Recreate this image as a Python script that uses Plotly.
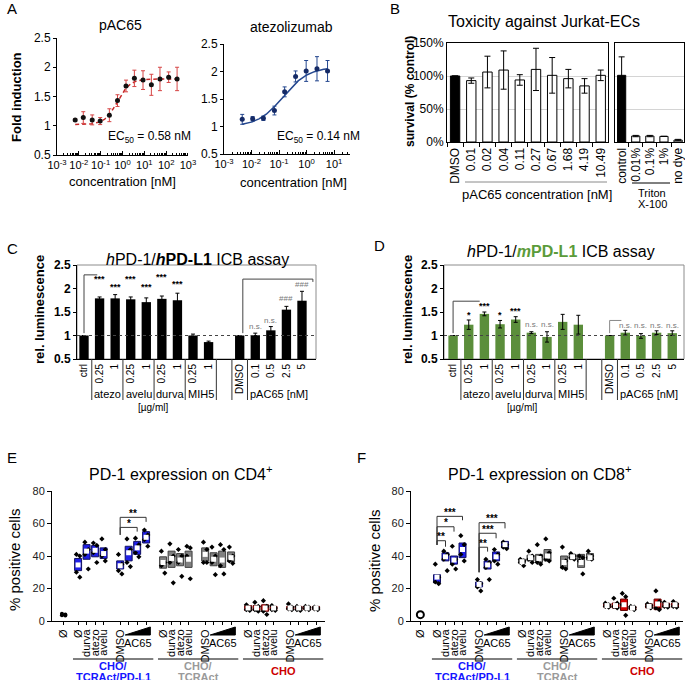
import numpy as np
import plotly.graph_objects as go

W, H = 685, 680
FONT = "Liberation Sans, Arial, Helvetica, sans-serif"


def px(v):
    return v / W


def py(v):
    return 1 - v / H


# ======================= DATA =======================
# Panel A - dose response
pac_conc = [0.0068, 0.016, 0.041, 0.095, 0.25, 0.59, 1.45, 3.5, 8.7, 21, 52, 130, 316]
pac_fold = [1.10, 1.14, 1.10, 1.08, 1.18, 1.43, 1.68, 1.81, 1.78, 1.70, 1.80, 1.83, 1.80]
pac_err = [0.02, 0.10, 0.085, 0.06, 0.11, 0.10, 0.10, 0.14, 0.16, 0.18, 0.20, 0.09, 0.20]
pac_fit = dict(bottom=1.02, top=1.80, ec50=0.58, hill=1.5)

atz_conc = [0.0046, 0.011, 0.027, 0.068, 0.16, 0.40, 0.97, 2.4, 5.8]
atz_fold = [1.13, 1.14, 1.15, 1.29, 1.63, 1.91, 2.01, 2.05, 2.01]
atz_err = [0.09, 0.04, 0.04, 0.08, 0.09, 0.10, 0.19, 0.22, 0.19]
atz_fit = dict(bottom=1.0, top=2.08, ec50=0.14, hill=0.95)

# Panel B - toxicity
tox_labels = ["DMSO", "0.01", "0.02", "0.04", "0.11", "0.27", "0.67", "1.68", "4.19", "10.49"]
tox_surv = [100, 93, 106, 109, 94, 110, 101, 96, 85, 101]
tox_err = [0, 4, 24, 29, 8, 32, 27, 14, 11, 8]
ctl_labels = ["control", "0.01%", "0.1%", "1%", "no dye"]
ctl_surv = [101, 9, 9, 8.5, 3]
ctl_err = [28, 1, 1, 0, 1]

# Panels C / D - ICB assay
icb_ab_labels = ["ctrl", "0.25", "1", "0.25", "1", "0.25", "1", "0.25", "1"]
icb_pac_labels = ["DMSO", "0.1", "0.5", "2.5", "5"]
icb_groups = ["atezo", "avelu", "durva", "MIH5"]
hC_ab = [1.00, 1.79, 1.79, 1.77, 1.71, 1.78, 1.75, 1.00, 0.86]
hC_ab_err = [0, 0.03, 0.08, 0.05, 0.09, 0.06, 0.15, 0.03, 0.02]
hC_pac = [1.00, 1.01, 1.11, 1.55, 1.74]
hC_pac_err = [0, 0.04, 0.08, 0.07, 0.20]
hC_ab_sig = ["", "***", "***", "***", "***", "***", "***", "", ""]
hC_pac_sig = ["", "n.s.", "n.s.", "###", "###"]
mD_ab = [1.00, 1.23, 1.46, 1.24, 1.34, 1.06, 0.97, 1.29, 1.23]
mD_ab_err = [0, 0.10, 0.04, 0.08, 0.06, 0.02, 0.11, 0.16, 0.20]
mD_pac = [1.00, 1.06, 0.99, 1.06, 1.05]
mD_pac_err = [0, 0.05, 0.05, 0.04, 0.05]
mD_ab_sig = ["", "*", "***", "*", "***", "n.s.", "n.s.", "", ""]
mD_pac_sig = ["", "n.s.", "n.s.", "n.s.", "n.s."]

# Panels E / F - PD-1 expression (order per group: Ø, durva, atezo, avelu, DMSO, AC65 low, mid, high)
pd1_labels = ["Ø", "durva", "atezo", "avelu", "DMSO", "", "", ""]
pd1_groups = [["CHO/", "TCRAct/PD-L1"], ["CHO/", "TCRAct"], ["CHO"]]

cd4_unstim = [4.5, 4.0, 3.6, 3.4]
cd4_q1 = [[31, 38, 39.5, 38.5, 32, 37, 41, 48],
          [32.5, 33, 34, 33, 37, 34, 33, 36.5],
          [6.5, 6.5, 6, 7, 7, 7, 7, 7]]
cd4_q3 = [[38.5, 47, 46.5, 45, 37, 46, 49, 55],
          [39.5, 43, 41.5, 43, 45, 42, 43, 42.5],
          [9.5, 9.5, 10, 9, 9, 9, 9, 9]]
cd4_mean = [[34.5, 43, 43.5, 41.5, 34, 42, 45, 51.5],
            [36, 38.5, 37.5, 38, 41, 38, 37.5, 39],
            [8, 8, 8, 8, 8, 8, 8, 8]]
cd4_pts = [[[41, 40, 30, 27], [48.5, 44, 41, 32], [48, 46.5, 42, 36], [50.5, 44, 40, 37],
            [41, 35, 31, 29], [50.5, 44, 36, 33.5], [51, 47, 42, 39.5], [56, 53, 50, 46]],
           [[43, 36, 34, 29.5], [47.5, 40, 36, 23.5], [44, 40, 36, 27.5], [46, 45, 40, 26],
            [48.5, 44, 36, 36], [45.5, 40, 36, 28.5], [47, 44, 34, 29], [45.5, 40, 37, 35.5]],
           [[10, 8, 7, 6.5], [11.5, 9, 7, 6], [12.5, 9, 6, 4], [9.5, 8, 7, 6.5],
            [10.5, 8.5, 7.5, 7], [9, 8, 7, 6.5], [9, 8.5, 7.5, 7], [8.5, 8, 7.5, 7]]]

cd8_unstim = [4.6, 4.0, 3.6, 3.4]
cd8_q1 = [[23.5, 37, 35, 39, 21, 32, 37, 45],
          [35.5, 37, 36, 37, 32.5, 38, 33, 37.5],
          [8.5, 8, 6.5, 7, 8, 7, 8.5, 8.5]]
cd8_q3 = [[28.5, 42, 40, 48, 24, 37, 42.5, 49],
          [38, 40.5, 41, 44, 40, 41, 41, 41.5],
          [10.5, 11, 13.5, 9, 10.5, 13.5, 11, 11]]
cd8_mean = [[27, 39.5, 37.5, 44, 22.5, 34.5, 39.5, 47],
            [36.5, 39, 38.5, 40, 36, 39.5, 36, 39],
            [9.5, 9.5, 10, 8, 9, 10.5, 10, 10]]
cd8_pts = [[[35, 27, 24, 23], [43, 41, 38, 31], [46, 38, 35, 32], [52.5, 47, 41, 37],
            [25.5, 23, 21, 18.5], [38, 36, 33, 25.5], [44, 41, 37, 35], [48.5, 47, 45.5, 44.5]],
           [[38, 37, 36, 34], [43, 40, 38, 36], [47, 40, 36, 35], [50.5, 42, 38, 37],
            [45.5, 37, 33, 32], [41.5, 40, 39, 38], [40, 39, 37, 29], [43, 40, 39, 38]],
           [[11, 10, 9, 8.5], [14, 11, 9, 8], [17, 15, 10, 3.5], [9, 8.5, 8, 7],
            [10.5, 9.5, 9, 8], [18.5, 12, 8, 7], [11.5, 10, 9, 8.5], [12, 10.5, 9, 8.5]]]

# ======================= FIGURE =======================
fig = go.Figure()
LAY = {}
ANN = []
SHP = []


def ax_ids(n):
    s = "" if n == 1 else str(n)
    return "x" + s, "y" + s, "xaxis" + s, "yaxis" + s


def set_axes(n, x0, x1, ytop, ybot, xkw, ykw):
    xr, yr, xk, yk = ax_ids(n)
    com = dict(showgrid=False, zeroline=False, showline=True, linecolor="black",
               linewidth=1, ticks="outside", ticklen=3, tickcolor="black", automargin=False,
               tickfont=dict(family=FONT, size=11, color="black"), fixedrange=True)
    xa = dict(com, domain=[px(x0), px(x1)], anchor=yr)
    xa.update(xkw)
    ya = dict(com, domain=[py(ybot), py(ytop)], anchor=xr)
    ya.update(ykw)
    LAY[xk] = xa
    LAY[yk] = ya
    return xr, yr


def text_px(t, x, y, size=11, color="black", angle=0, xa="center", ya="middle"):
    ANN.append(dict(text=t, x=px(x), y=py(y), xref="paper", yref="paper", showarrow=False,
                    font=dict(family=FONT, size=size, color=color), textangle=angle,
                    xanchor=xa, yanchor=ya))


def text_data(t, x, y, xr, yr, size=9, color="black"):
    ANN.append(dict(text=t, x=x, y=y, xref=xr, yref=yr, showarrow=False,
                    font=dict(family=FONT, size=size, color=color),
                    xanchor="center", yanchor="middle"))


def text_xp(t, x, ypix, xr, size=10, color="black"):
    ANN.append(dict(text=t, x=x, y=py(ypix), xref=xr, yref="paper", showarrow=False,
                    font=dict(family=FONT, size=size, color=color),
                    xanchor="center", yanchor="middle"))


def line_data(x0, y0, x1, y1, xr, yr, color="black", width=1, dash="solid"):
    SHP.append(dict(type="line", x0=x0, y0=y0, x1=x1, y1=y1, xref=xr, yref=yr,
                    line=dict(color=color, width=width, dash=dash)))


def line_xp(x0, y0, x1, y1, xr, color="black", width=1):
    SHP.append(dict(type="line", x0=x0, y0=py(y0), x1=x1, y1=py(y1), xref=xr, yref="paper",
                    line=dict(color=color, width=width)))


def line_px(x0, y0, x1, y1, color="black", width=1):
    SHP.append(dict(type="line", x0=px(x0), y0=py(y0), x1=px(x1), y1=py(y1),
                    xref="paper", yref="paper", line=dict(color=color, width=width)))


def fourpl(x, p):
    return p["bottom"] + (p["top"] - p["bottom"]) / (1 + (p["ec50"] / x) ** p["hill"])


# ---------------- Panel A ----------------
def log_axis(lo, hi, top_label):
    return dict(type="log", range=[lo, hi], tickmode="array", tickangle=0,
                tickvals=[10.0 ** k for k in range(lo, top_label + 1)],
                ticktext=[f"10<sup>{k}</sup>" for k in range(lo, top_label + 1)],
                ticks="inside", ticklen=4,
                tickfont=dict(family=FONT, size=11, color="black"),
                minor=dict(ticks="inside", ticklen=2, tickcolor="black",
                           tickvals=[m * 10.0 ** k for k in range(lo, top_label + 1) for m in range(2, 10)
                                     if np.log10(m * 10.0 ** k) <= hi]))


fold_y = dict(range=[0.5, 2.5], tickvals=[0.5, 1, 1.5, 2, 2.5],
              ticktext=["0.5", "1", "1.5", "2", "2.5"],
              tickfont=dict(family=FONT, size=12, color="black"))

xr, yr = set_axes(1, 57, 188, 38, 155, log_axis(-3, 3, 3), dict(fold_y))
xs = np.logspace(np.log10(min(pac_conc)), np.log10(max(pac_conc)), 200)
fig.add_trace(go.Scatter(x=xs, y=fourpl(xs, pac_fit), mode="lines", xaxis=xr, yaxis=yr,
                         line=dict(color="#c62828", width=1.5, dash="4px,3px"), hoverinfo="skip"))
fig.add_trace(go.Scatter(x=pac_conc, y=pac_fold, mode="markers", xaxis=xr, yaxis=yr,
                         marker=dict(color="#111111", size=5),
                         error_y=dict(type="data", array=pac_err, color="#d64545", thickness=1, width=2)))

xr, yr = set_axes(2, 224, 350, 44, 154, log_axis(-3, 1.58, 1), dict(fold_y))
xs = np.logspace(np.log10(min(atz_conc)), np.log10(max(atz_conc)), 200)
fig.add_trace(go.Scatter(x=xs, y=fourpl(xs, atz_fit), mode="lines", xaxis=xr, yaxis=yr,
                         line=dict(color="#24478f", width=1.5), hoverinfo="skip"))
fig.add_trace(go.Scatter(x=atz_conc, y=atz_fold, mode="markers", xaxis=xr, yaxis=yr,
                         marker=dict(color="#152a66", size=5),
                         error_y=dict(type="data", array=atz_err, color="#24478f", thickness=1, width=2)))

text_px("A", 5, 9, size=15, xa="left")
text_px("pAC65", 120, 25, size=14)
text_px("atezolizumab", 291, 27, size=14)
text_px("<b>Fold induction</b>", 17, 97, size=13, angle=-90)
text_px("EC<sub>50</sub> = 0.58 nM", 149, 137, size=12)
text_px("EC<sub>50</sub> = 0.14 nM", 318, 137, size=12)
text_px("concentration [nM]", 122, 182, size=13)
text_px("concentration [nM]", 293, 183, size=13)

# ---------------- Panel B ----------------
surv_y = dict(range=[0, 150], tickvals=[0, 50, 100, 150], ticktext=["0%", "50%", "100%", "150%"],
              showgrid=True, gridcolor="#d4d4d4", mirror=True, ticks="",
              tickfont=dict(family=FONT, size=12, color="black"))
xr, yr = set_axes(3, 447, 608, 43, 142,
                  dict(range=[-0.5, 9.45], tickvals=list(range(len(tox_labels))), ticktext=tox_labels,
                       tickangle=-90, ticks="", mirror=True,
                       tickfont=dict(family=FONT, size=12, color="black"),
                       minor=dict(tickvals=[i + 0.5 for i in range(-1, len(tox_labels))],
                                  ticks="outside", ticklen=4, tickcolor="black")),
                  dict(surv_y))
fig.add_trace(go.Bar(x=list(range(len(tox_labels))), y=tox_surv, width=0.58, xaxis=xr, yaxis=yr,
                     marker=dict(color=["black"] + ["white"] * (len(tox_labels) - 1),
                                 line=dict(color="black", width=1)),
                     error_y=dict(type="data", array=tox_err, color="black", thickness=1, width=3)))
xr, yr = set_axes(4, 615, 684, 43, 142,
                  dict(range=[-0.47, 4.42], tickvals=list(range(len(ctl_labels))), ticktext=ctl_labels,
                       tickangle=-90, ticks="", mirror=True,
                       tickfont=dict(family=FONT, size=12, color="black"),
                       minor=dict(tickvals=[i + 0.5 for i in range(-1, len(ctl_labels))],
                                  ticks="outside", ticklen=4, tickcolor="black")),
                  dict(surv_y, showticklabels=False))
fig.add_trace(go.Bar(x=list(range(len(ctl_labels))), y=ctl_surv, width=0.58, xaxis=xr, yaxis=yr,
                     marker=dict(color=["black"] + ["white"] * (len(ctl_labels) - 1),
                                 line=dict(color="black", width=1)),
                     error_y=dict(type="data", array=ctl_err, color="black", thickness=1, width=3)))
text_px("B", 388, 9, size=15, xa="left")
text_px("Toxicity against Jurkat-ECs", 544, 22, size=16)
text_px("<b>survival (% control)</b>", 410, 92, size=12, angle=-90)
line_px(465, 182, 607, 182, color="#8a8a8a")
text_px("pAC65 concentration [nM]", 537, 194, size=13)
line_px(632, 183, 670, 183)
text_px("Triton", 652, 193, size=11)
text_px("X-100", 652, 204, size=11)

# ---------------- Panels C / D ----------------
ab_pos = list(range(len(icb_ab_labels)))
pac_pos = [len(icb_ab_labels) + 1 + i for i in range(len(icb_pac_labels))]
seps = [0.5, 2.5, 4.5, 6.5, 8.5, 9.5, 10.5]
lum_y = dict(range=[0.5, 2.5], tickvals=[0.5, 1, 1.5, 2, 2.5],
             ticktext=["<b>0.5</b>", "<b>1</b>", "<b>1.5</b>", "<b>2</b>", "<b>2.5</b>"],
             tickfont=dict(family=FONT, size=12, color="black"))


def icb_panel(n, x0, x1, xlo, xhi, ab, ab_err, pac, pac_err, color):
    xr, yr = set_axes(n, x0, x1, 265, 359,
                      dict(range=[xlo, xhi], tickvals=ab_pos + pac_pos,
                           ticktext=icb_ab_labels + icb_pac_labels, tickangle=-90, ticks="",
                           tickfont=dict(family=FONT, size=10, color="black")),
                      dict(lum_y))
    SHP.append(dict(type="rect", xref="paper", yref="paper", x0=px(x0), x1=px(x1), y0=py(359),
                    y1=py(265), line=dict(color="#8c8c8c", width=1), layer="below"))
    line_data(xlo, 1, xhi, 1, xr, yr, color="#444444", width=1, dash="dot")
    fig.add_trace(go.Bar(x=ab_pos + pac_pos, y=ab + pac, width=0.6, xaxis=xr, yaxis=yr,
                         marker=dict(color=color, line=dict(width=0)),
                         error_y=dict(type="data", array=ab_err + pac_err, color="black",
                                      thickness=1, width=2)))
    for s in seps:
        line_xp(s, 359, s, 400, xr, color="#333333")
    for i, g in enumerate(icb_groups):
        text_xp(g, 1.5 + 2 * i, 394, xr, size=11)
    text_xp("pAC65 [nM]", 12.5, 394, xr, size=11)
    text_xp("[µg/ml]", 4.4, 407, xr, size=10)
    return xr, yr


xr, yr = icb_panel(5, 77, 316, -0.45, 14.9, hC_ab, hC_ab_err, hC_pac, hC_pac_err, "black")
c_star_y = [0, 2.2, 2.03, 2.2, 2.03, 2.24, 2.1, 0, 0]
for i, s in enumerate(hC_ab_sig):
    if s:
        text_data(f"<b>{s}</b>", ab_pos[i], c_star_y[i], xr, yr, size=9)
c_pac_y = [0, 1.2, 1.31, 1.78, 2.09]
for i, s in enumerate(hC_pac_sig):
    if s:
        text_data(s, pac_pos[i], c_pac_y[i], xr, yr, size=8, color="#777777")
line_data(0, 1.05, 0, 2.29, xr, yr, color="#444444")
line_data(0, 2.29, 0.85, 2.29, xr, yr, color="#444444")
line_data(10.2, 1.05, 10.2, 2.2, xr, yr, color="#444444")
line_data(10.2, 2.2, 14.7, 2.2, xr, yr, color="#444444")
line_data(14.7, 2.2, 14.7, 2.14, xr, yr, color="#444444")
text_px("C", 5, 248, size=15, xa="left")
text_px("<i>h</i>PD-1/<b><i>h</i>PD-L1</b> ICB assay", 197, 259, size=16)
text_px("<b>rel. luminescence</b>", 40, 310, size=13, angle=-90)

xr, yr = icb_panel(6, 444, 684, -0.58, 14.75, mD_ab, mD_ab_err, mD_pac, mD_pac_err, "#5b8e3b")
d_star_y = [0, 1.44, 1.62, 1.43, 1.52, 1.23, 1.23, 0, 0]
for i, s in enumerate(mD_ab_sig):
    if s:
        if "*" in s:
            text_data(f"<b>{s}</b>", ab_pos[i], d_star_y[i], xr, yr, size=9)
        else:
            text_data(s, ab_pos[i], d_star_y[i], xr, yr, size=8, color="#777777")
for i, s in enumerate(mD_pac_sig):
    if s:
        text_data(s, pac_pos[i], 1.22, xr, yr, size=8, color="#777777")
line_data(0, 1.05, 0, 1.73, xr, yr, color="#444444")
line_data(0, 1.73, 1.7, 1.73, xr, yr, color="#444444")
line_data(10, 1.05, 10, 1.32, xr, yr, color="#888888")
line_data(10, 1.32, 10.75, 1.32, xr, yr, color="#888888")
text_px("D", 372, 245, size=15, xa="left")
text_px("<i>h</i>PD-1/<b><span style='color:#5b9b3a'><i>m</i>PD-L1</span></b> ICB assay",
        561, 251, size=16)
text_px("<b>rel. luminescence</b>", 408, 310, size=13, angle=-90)

# ---------------- Panels E / F ----------------
item_off = [0, 1, 2, 3, 4.95, 5.95, 6.95, 8]
grp_fill = ["#1f1fe8", "#808080", "#d40000"]
grp_edge = ["#101060", "#404040", "#600000"]
grp_text = ["#1515ff", "#9a9a9a", "#cc0000"]
jit = [-0.2, 0.2, -0.2, 0.2]


def pd1_panel(n, x0, x1, xlo, xhi, start, unst, q1, q3, mean, pts, unst_ring):
    pos = [[start + 10 * g + o for o in item_off] for g in range(3)]
    tickvals = [0] + [p for row in pos for p in row]
    ticktext = ["Ø"] + pd1_labels * 3
    xr, yr = set_axes(n, x0, x1, 491, 621,
                      dict(range=[xlo, xhi], tickvals=tickvals, ticktext=ticktext, tickangle=-90,
                           tickfont=dict(family=FONT, size=11, color="black")),
                      dict(range=[0, 80], tickvals=[0, 20, 40, 60, 80], ticksuffix="%", ticklen=4,
                           tickfont=dict(family=FONT, size=11, color="#222222")))
    # unstimulated
    fig.add_trace(go.Bar(x=[0], y=[max(unst) - min(unst)], base=[min(unst)], width=0.7,
                         xaxis=xr, yaxis=yr, marker=dict(color="#333333", line=dict(width=0))))
    fig.add_trace(go.Scatter(x=[0 + j for j in jit], y=unst, mode="markers", xaxis=xr, yaxis=yr,
                             marker=dict(color="black", size=4)))
    if unst_ring:
        fig.add_trace(go.Scatter(x=[0], y=[sum(unst) / len(unst)], mode="markers", xaxis=xr, yaxis=yr,
                                 marker=dict(color="white", size=7, line=dict(color="black", width=2))))
    for g in range(3):
        fig.add_trace(go.Bar(x=pos[g], y=[b - a for a, b in zip(q1[g], q3[g])], base=q1[g], width=0.82,
                             xaxis=xr, yaxis=yr,
                             marker=dict(color=grp_fill[g], line=dict(color=grp_edge[g], width=1))))
        xs_p, ys_p = [], []
        for i, p in enumerate(pos[g]):
            for k, v in enumerate(pts[g][i]):
                xs_p.append(p + jit[k])
                ys_p.append(v)
        fig.add_trace(go.Scatter(x=xs_p, y=ys_p, mode="markers", xaxis=xr, yaxis=yr,
                                 marker=dict(color="black", size=4, symbol="diamond")))
        fig.add_trace(go.Scatter(x=pos[g], y=mean[g], mode="markers", xaxis=xr, yaxis=yr,
                                 marker=dict(color="white", size=5, symbol="square")))
        # wedge + AC65 label
        a, c = pos[g][5] - 0.4, pos[g][7] + 0.5
        SHP.append(dict(type="path", xref=xr, yref="paper",
                        path=f"M {a},{py(635)} L {c},{py(635)} L {c},{py(627)} Z",
                        fillcolor="black", line=dict(color="black", width=1)))
        text_xp("AC65", pos[g][6] + 0.1, 643, xr, size=11)
        # group line + name
        la, lb = pos[g][0] - 0.6, pos[g][7] + 0.85
        line_xp(la, 659, lb, 659, xr)
        names = pd1_groups[g]
        if len(names) == 1:
            text_xp(f"<b>{names[0]}</b>", (la + lb) / 2, 671, xr, size=11, color=grp_text[g])
        else:
            text_xp(f"<b>{names[0]}</b>", (la + lb) / 2, 666, xr, size=11, color=grp_text[g])
            text_xp(f"<b>{names[1]}</b>", (la + lb) / 2, 677, xr, size=11, color=grp_text[g])
    return xr, yr, pos


def bracket(xr, yr, xa, xb, y, leg_a, leg_b, label):
    line_data(xa, y, xb, y, xr, yr, color="#333333")
    line_data(xa, leg_a, xa, y, xr, yr, color="#333333")
    line_data(xb, leg_b, xb, y, xr, yr, color="#333333")
    text_data(f"<b>{label}</b>", (xa + xb) / 2, y + 2.6, xr, yr, size=10)


xr, yr, pos = pd1_panel(7, 52, 325, -1.37, 30.75, 1.7, cd4_unstim, cd4_q1, cd4_q3, cd4_mean,
                        cd4_pts, False)
b = pos[0]
bracket(xr, yr, b[4], b[7], 63.8, 53, 61, "**")
bracket(xr, yr, b[4], b[6], 57.6, 53, 55, "*")
text_px("E", 5, 457, size=15, xa="left")
text_px("PD-1 expression on CD4<sup>+</sup>", 181, 473, size=16)
text_px("% positive cells", 14, 560, size=15, angle=-90)

xr, yr, pos = pd1_panel(8, 411, 683, -1.1, 30.9, 1.96, cd8_unstim, cd8_q1, cd8_q3, cd8_mean,
                        cd8_pts, True)
b = pos[0]
bracket(xr, yr, b[0], b[3], 64.4, 46.8, 62, "***")
bracket(xr, yr, b[0], b[2], 58.0, 46.8, 55, "*")
bracket(xr, yr, b[0], b[1], 49.4, 46.8, 45.7, "**")
bracket(xr, yr, b[4], b[7], 60.5, 30, 57, "***")
bracket(xr, yr, b[4], b[6], 54.0, 30, 50.9, "***")
bracket(xr, yr, b[4], b[5], 45.4, 30, 42.7, "**")
text_px("F", 355, 457, size=15, xa="left")
text_px("PD-1 expression on CD8<sup>+</sup>", 540, 473, size=16)
text_px("% positive cells", 374, 560, size=15, angle=-90)

fig.update_layout(width=W, height=H, margin=dict(l=0, r=0, t=0, b=0), autosize=False,
                  paper_bgcolor="white", plot_bgcolor="white", showlegend=False,
                  barmode="overlay", font=dict(family=FONT, size=11, color="black"),
                  annotations=ANN, shapes=SHP, **LAY)
fig.write_html("out.html", config={"displayModeBar": False},
               post_script="document.body.style.margin='0';document.body.style.padding='0';"
                           "document.documentElement.style.overflow='hidden';"
                           "document.body.style.overflow='hidden';")
